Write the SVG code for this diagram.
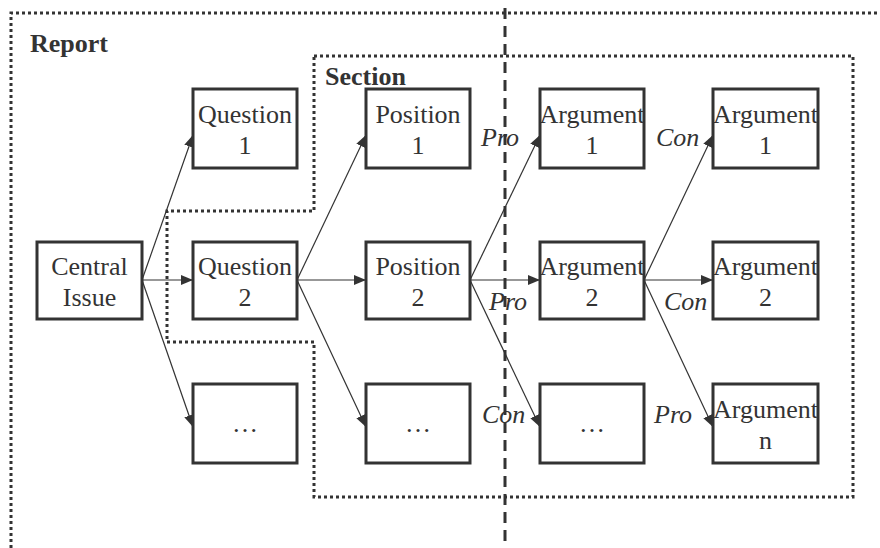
<svg xmlns="http://www.w3.org/2000/svg" width="880" height="548" viewBox="0 0 880 548">
<defs>
<marker id="ah" markerUnits="userSpaceOnUse" markerWidth="13" markerHeight="11" refX="12" refY="5" orient="auto">
<path d="M0,0 L12,5 L0,10 Z" fill="#333"/>
</marker>
</defs>
<rect width="880" height="548" fill="#fff"/>
<g id="frames" fill="none" stroke="#333" stroke-width="3">
<path id="report-frame" stroke-dasharray="3 3" d="M11,548 V13 H880"/>
<path id="section-frame" stroke-dasharray="3 3" d="M314,56 H853 V497 H314 V342 H167 V211 H314 Z"/>
<path id="divider" stroke-dasharray="11 7" d="M505,8 V548"/>
</g>
<g id="titles" font-family="Liberation Serif" font-size="26" font-weight="bold" fill="#333">
<text id="report" x="30" y="52">Report</text>
<text id="section" x="325" y="85">Section</text>
</g>
<g id="connectors">
<g fill="none" stroke="#333" stroke-width="1.2" marker-end="url(#ah)">
<path d="M142,280 L193,135"/>
<path d="M142,280 L193,280"/>
<path d="M142,280 L193,427"/>
<path d="M297,280 L366,135"/>
<path d="M297,280 L366,280"/>
<path d="M297,280 L366,427"/>
<path d="M470,280 L540,135"/>
<path d="M470,280 L540,280"/>
<path d="M470,280 L540,427"/>
<path d="M644,280 L713,135"/>
<path d="M644,280 L713,280"/>
<path d="M644,280 L713,427"/>
</g>
<g font-family="Liberation Serif" font-size="26" font-style="italic" fill="#333">
<text x="481" y="146">Pro</text>
<text x="656" y="146">Con</text>
<text x="489" y="310">Pro</text>
<text x="664" y="310">Con</text>
<text x="482" y="423">Con</text>
<text x="654" y="423">Pro</text>
</g>
</g>
<g id="nodes" font-family="Liberation Serif" font-size="26" text-anchor="middle">
<g id="boxes" fill="#fff" stroke="#333" stroke-width="3">
<rect x="37" y="242" width="105" height="77"/>
<rect x="193" y="89" width="104" height="79"/>
<rect x="193" y="242" width="104" height="77"/>
<rect x="193" y="384" width="104" height="79"/>
<rect x="366" y="89" width="104" height="79"/>
<rect x="366" y="242" width="104" height="77"/>
<rect x="366" y="384" width="104" height="79"/>
<rect x="540" y="89" width="104" height="79"/>
<rect x="540" y="242" width="104" height="77"/>
<rect x="540" y="384" width="104" height="79"/>
<rect x="713" y="89" width="105" height="79"/>
<rect x="713" y="242" width="105" height="77"/>
<rect x="713" y="384" width="105" height="79"/>
</g>
<g id="labels" fill="#333">
<text id="central" x="89.5" y="275">Central<tspan x="89.5" y="306">Issue</tspan></text>
<text id="q1" x="245" y="123">Question<tspan x="245" y="154">1</tspan></text>
<text id="q2" x="245" y="275">Question<tspan x="245" y="306">2</tspan></text>
<text id="q3" x="245" y="432">…</text>
<text id="p1" x="418" y="123">Position<tspan x="418" y="154">1</tspan></text>
<text id="p2" x="418" y="275">Position<tspan x="418" y="306">2</tspan></text>
<text id="p3" x="418" y="432">…</text>
<text id="a1" x="592" y="123">Argument<tspan x="592" y="154">1</tspan></text>
<text id="a2" x="592" y="275">Argument<tspan x="592" y="306">2</tspan></text>
<text id="a3" x="592" y="432">…</text>
<text id="b1" x="765.5" y="123">Argument<tspan x="765.5" y="154">1</tspan></text>
<text id="b2" x="765.5" y="275">Argument<tspan x="765.5" y="306">2</tspan></text>
<text id="bn" x="765.5" y="418">Argument<tspan x="765.5" y="449">n</tspan></text>
</g>
</g>
</svg>
